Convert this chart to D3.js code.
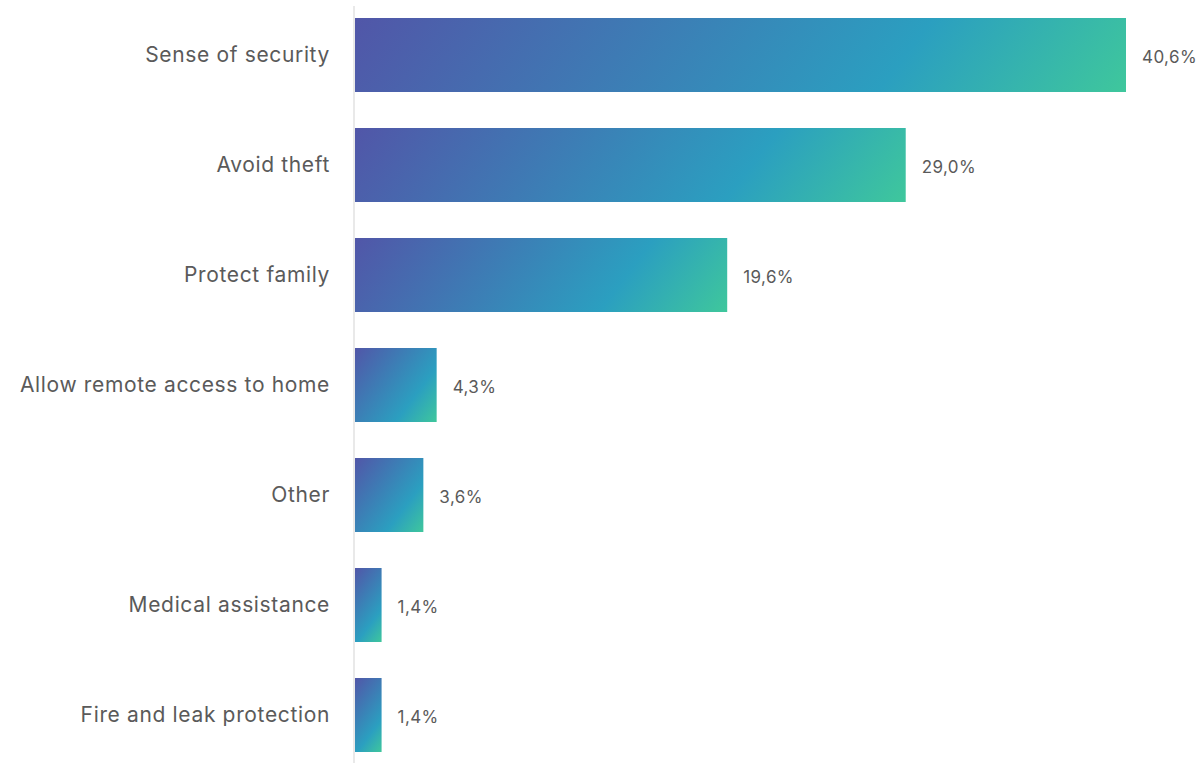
<!DOCTYPE html>
<html>
<head>
<meta charset="utf-8">
<script src="https://cdn.jsdelivr.net/npm/d3@7"></script>
<style>
  html, body { margin: 0; padding: 0; background: #fff; }
  svg { display: block; }
  .cat { font-family: "Inter", "Noto Sans", sans-serif; font-size: 21px; letter-spacing: 0.65px; fill: #5a5a5a; }
  .val { font-family: "Inter", "Noto Sans", sans-serif; font-size: 17px; letter-spacing: 0.4px; fill: #5a5a5a; }
</style>
</head>
<body>
<svg id="chart" width="1199" height="763"></svg>
<script>
const categories = [
  "Sense of security",
  "Avoid theft",
  "Protect family",
  "Allow remote access to home",
  "Other",
  "Medical assistance",
  "Fire and leak protection"
];
const values = [40.6, 29.0, 19.6, 4.3, 3.6, 1.4, 1.4];
const valueLabels = ["40,6%", "29,0%", "19,6%", "4,3%", "3,6%", "1,4%", "1,4%"];

const width = 1199, height = 763;
const left = 355, right = 73;

const svg = d3.select("#chart");

const x = d3.scaleLinear()
  .domain([0, 40.6])
  .range([left, width - right]);

const y = d3.scaleBand()
  .domain(categories)
  .range([0, 770])
  .paddingInner(36 / 110)
  .paddingOuter(18 / 110);

const bh = y.bandwidth();

// angled gradient per bar, running from the top-left corner to the bottom-right corner
const angle = 37 * Math.PI / 180;
const ux = Math.cos(angle), uy = Math.sin(angle);
const defs = svg.append("defs");
values.forEach((v, i) => {
  const x0 = x(0), w = x(v) - x(0);
  const y0 = y(categories[i]), h = bh;
  const len = w * ux + h * uy;
  const g = defs.append("linearGradient")
    .attr("id", "barGrad" + i)
    .attr("gradientUnits", "userSpaceOnUse")
    .attr("x1", x0).attr("y1", y0)
    .attr("x2", x0 + ux * len).attr("y2", y0 + uy * len);
  g.append("stop").attr("offset", "0%").attr("stop-color", "#5156a8");
  g.append("stop").attr("offset", "70%").attr("stop-color", "#2b9fc0");
  g.append("stop").attr("offset", "100%").attr("stop-color", "#3fc79c");
});

// baseline
svg.append("line")
  .attr("x1", left - 1).attr("x2", left - 1)
  .attr("y1", 6).attr("y2", height)
  .attr("stroke", "#e9e9e9")
  .attr("stroke-width", 2);

svg.append("g")
  .selectAll("rect")
  .data(values)
  .join("rect")
  .attr("x", x(0))
  .attr("y", (d, i) => y(categories[i]))
  .attr("width", d => x(d) - x(0))
  .attr("height", bh)
  .attr("fill", (d, i) => `url(#barGrad${i})`);

// category labels
svg.append("g")
  .selectAll("text")
  .data(categories)
  .join("text")
  .attr("class", "cat")
  .attr("x", left - 25)
  .attr("y", d => y(d) + bh / 2)
  .attr("dy", "0.35em")
  .attr("text-anchor", "end")
  .text(d => d);

// value labels
svg.append("g")
  .selectAll("text")
  .data(values)
  .join("text")
  .attr("class", "val")
  .attr("x", d => x(d) + 16)
  .attr("y", (d, i) => y(categories[i]) + bh / 2 + 2)
  .attr("dy", "0.35em")
  .text((d, i) => valueLabels[i]);
</script>
</body>
</html>
